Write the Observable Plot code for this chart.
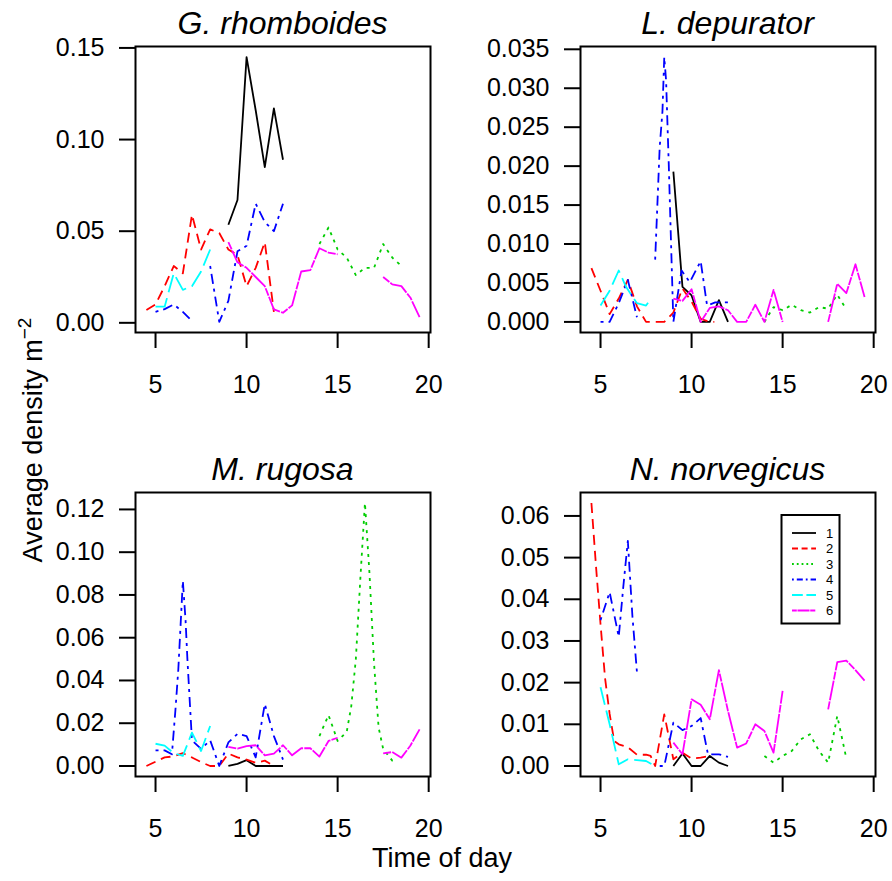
<!DOCTYPE html>
<html>
<head>
<meta charset="utf-8">
<script src="https://cdn.jsdelivr.net/npm/d3@7"></script>
<script src="https://cdn.jsdelivr.net/npm/@observablehq/plot@0.6"></script>
<style>
  html, body { margin: 0; padding: 0; background: #ffffff; }
  #wrap { position: relative; width: 892px; height: 881px; overflow: hidden; background: #ffffff;
          font-family: "Liberation Sans", Arial, Helvetica, sans-serif; }
  .panel { position: absolute; }
  #overlay { position: absolute; left: 0; top: 0; pointer-events: none; }
</style>
</head>
<body>
<div id="wrap"></div>
<script>
// ---------- shared labels / styles ----------
const xTicks = [5, 10, 15, 20];
const titles = ["G. rhomboides", "L. depurator", "M. rugosa", "N. norvegicus"];
const seriesLabels = ["1", "2", "3", "4", "5", "6"];
const seriesColors = ["#000000", "#ff0000", "#00cd00", "#0000ff", "#00ffff", "#ff00ff"];
const seriesDash = [undefined, "10,6", "3,5", "3,5,10,5", "18,6", "8,1.2,20,1.2"];
const xTitle = "Time of day";
const yTitle = "Average density m";
const yTitleSup = "\u22122";

// ---------- G. rhomboides : [time, density] ----------
const gr1 = [[9,0.0535],[9.5,0.067],[10,0.145],[10.5,0.116],[11,0.085],[11.5,0.117],[12,0.089]];
const gr2 = [[4.5,0.007],[5,0.010],[5.5,0.020],[6,0.031],[6.5,0.027],[7,0.059],[7.5,0.040],[8,0.051],[8.5,0.049],[9,0.040],[9.5,0.037],[10,0.020],[10.5,0.030],[11,0.044],[11.5,0.006]];
const gr3 = [[14,0.043],[14.5,0.052],[15,0.040],[15.5,0.0356],[16,0.026],[16.5,0.030],[17,0.030],[17.5,0.043],[18,0.0356],[18.5,0.031]];
const gr4 = [[5,0.006],[5.5,0.0075],[6,0.010],[6.5,0.006],[7,0.001],[7.5,null],[8,0.031],[8.5,0.0005],[9,0.012],[9.5,0.039],[10,0.042],[10.5,0.065],[11,0.055],[11.5,0.050],[12,0.065]];
const gr5 = [[5,0.0088],[5.5,0.0088],[6,0.027],[6.5,0.018],[7,0.020],[7.5,0.028],[8,0.040]];
const gr6 = [[9,0.044],[9.5,0.033],[10,0.030],[10.5,0.025],[11,0.020],[11.5,0.0073],[12,0.0055],[12.5,0.0095],[13,0.028],[13.5,0.0287],[14,0.0407],[14.5,0.0383],[15,0.0374],[15.5,null],[17.5,0.025],[18,0.021],[18.5,0.020],[19,0.0137],[19.5,0.0031]];
const grTicks = [0, 0.05, 0.10, 0.15];

// ---------- L. depurator ----------
const ld1 = [[9,0.0193],[9.5,0.0045],[10,0.0034],[10.5,0],[11,0],[11.5,0.0028],[12,0]];
const ld2 = [[4.5,0.0069],[5,0.004],[5.5,0.001],[6,0.003],[6.5,0.0054],[7,0.002],[7.5,0],[8,0],[8.5,0],[9,0.0012],[9.5,0.0043],[10,0.0026],[10.5,0.0004],[11,0],[11.25,0]];
const ld3 = [[14,0],[14.5,0.0019],[15,0.0015],[15.5,0.0022],[16,0.0015],[16.5,0.0012],[17,0.0019],[17.5,0.0017],[18,0.0035],[18.5,0.0016]];
const ld4 = [[5,0],[5.5,0],[6,0.0024],[6.5,0.0054],[7,0.0006],[7.5,null],[8,0.008],[8.25,0.0225],[8.4,0.027],[8.5,0.034],[8.6,0.031],[8.75,0.020],[8.88,0.0095],[9,0],[9.45,0.0066],[9.9,0.0051],[10.5,0.0078],[10.85,0.0021],[11.3,0.0025],[12,0.0025]];
const ld5 = [[5,0.0021],[5.5,0.004],[6,0.0066],[6.4,0.0045],[7,0.0024],[7.5,0.0021],[7.8,0.0031]];
const ld6 = [[9,0.003],[9.5,0.0027],[10,0.0042],[10.5,0],[11,0.0018],[11.5,0.0020],[12,0.0015],[12.5,0],[13,0],[13.5,0.0022],[14,0],[14.5,0.0041],[15,0],[15.5,null],[17.5,0],[18,0.0049],[18.5,0.0037],[19,0.0074],[19.5,0.0032]];
const ldTicks = [0, 0.005, 0.010, 0.015, 0.020, 0.025, 0.030, 0.035];

// ---------- M. rugosa ----------
const mr1 = [[9,0],[9.5,0.001],[10,0.0027],[10.5,0],[11,0],[11.5,0],[12,0]];
const mr2 = [[4.5,0],[5,0.002],[5.5,0.004],[6,0.0045],[6.5,0.006],[7,0.004],[7.5,0.0018],[8,0],[8.5,0],[9,0.0058],[9.5,0.004],[10,0.003],[10.5,0.0015],[11,0.0025],[11.5,0]];
const mr3 = [[14,0.014],[14.5,0.0238],[15,0.0117],[15.5,0.016],[15.75,0.028],[16,0.050],[16.25,0.088],[16.5,0.123],[16.75,0.090],[17,0.048],[17.25,0.018],[17.5,0.008],[18,0.0025],[18.25,0.0019]];
const mr4 = [[5,0.0073],[5.5,0.0073],[5.9,0.0055],[6.1,0.027],[6.25,0.045],[6.5,0.0865],[6.65,0.068],[6.75,0.050],[7,0.012],[7.5,0.008],[8,0.012],[8.5,0],[9,0.011],[9.5,0.015],[10,0.014],[10.5,0.004],[11,0.029],[11.5,0.014],[12,0.003]];
const mr5 = [[5,0.0104],[5.5,0.0095],[6,0.006],[6.5,0.0047],[7,0.0156],[7.5,0.007],[8,0.0187]];
const mr6 = [[9,0.0089],[9.5,0.0081],[10,0.0093],[10.5,0.0097],[11,0.005],[11.5,0.0058],[12,0.0097],[12.5,0.005],[13,0.0083],[13.5,0.0083],[14,0.0044],[14.5,0.0117],[15,0.0132],[15.5,null],[17.5,0.0059],[18,0.0065],[18.5,0.0039],[19,0.0096],[19.5,0.0171]];
const mrTicks = [0, 0.02, 0.04, 0.06, 0.08, 0.10, 0.12];

// ---------- N. norvegicus ----------
const nn1 = [[9,0],[9.5,0.003],[10,0],[10.5,0],[11,0.0024],[11.5,0.0008],[12,0]];
const nn2 = [[4.5,0.0631],[4.75,0.048],[5,0.034],[5.25,0.021],[5.5,0.0125],[5.75,0.006],[6,0.0052],[6.5,0.0045],[7,0.0027],[7.5,0.0027],[7.75,0.0024],[8,0],[8.5,0.0124],[9,0.0016],[9.5,0.0032],[10,0.0018],[10.5,0.002],[11,0.0024]];
const nn3 = [[14,0.0024],[14.5,0.0008],[15,0.0024],[15.5,0.0036],[16,0.0064],[16.5,0.0076],[17,0.0036],[17.5,0.0008],[18,0.012],[18.5,0.0018]];
const nn4 = [[5,0.035],[5.5,0.0417],[6,0.031],[6.25,0.043],[6.5,0.054],[6.75,0.036],[7,0.0225],[7.5,null],[8.25,0],[8.5,0],[9,0.0104],[9.5,0.0086],[10,0.0096],[10.5,0.0115],[10.9,0.0028],[11.5,0.0028],[12,0.0022]];
const nn5 = [[5,0.0189],[5.5,0.0100],[6,0.0004],[6.5,0.0016],[7,0.0014],[7.5,0.0012],[8,0]];
const nn6 = [[9,0.0056],[9.5,0.0028],[10,0.016],[10.5,0.0147],[11,0.0112],[11.5,0.023],[12,0.0132],[12.5,0.0044],[13,0.0054],[13.5,0.010],[14,0.0084],[14.5,0.0032],[15,0.018],[15.5,null],[17.5,0.0136],[18,0.0249],[18.5,0.0253],[19,0.023],[19.5,0.0205]];
const nnTicks = [0, 0.01, 0.02, 0.03, 0.04, 0.05, 0.06];

// ---------- layout ----------
const FONT = '"Liberation Sans", Arial, Helvetica, sans-serif';
const panels = [
  {title: titles[0], series: [gr1, gr2, gr3, gr4, gr5, gr6], yTicks: grTicks, fmt: ".2f",
   left: 0, top: 0, w: 446, h: 440, mt: 46, mr: 16, mb: 108, ml: 135},
  {title: titles[1], series: [ld1, ld2, ld3, ld4, ld5, ld6], yTicks: ldTicks, fmt: ".3f",
   left: 446, top: 0, w: 446, h: 440, mt: 46, mr: 17, mb: 108, ml: 134},
  {title: titles[2], series: [mr1, mr2, mr3, mr4, mr5, mr6], yTicks: mrTicks, fmt: ".2f",
   left: 0, top: 440, w: 446, h: 441, mt: 52, mr: 16, mb: 105, ml: 135},
  {title: titles[3], series: [nn1, nn2, nn3, nn4, nn5, nn6], yTicks: nnTicks, fmt: ".2f",
   left: 446, top: 440, w: 446, h: 441, mt: 52, mr: 17, mb: 105, ml: 134}
];

const wrap = document.getElementById("wrap");

function expand(ext) {           // R-style 4% axis expansion
  const pad = 0.04 * (ext[1] - ext[0]);
  return [ext[0] - pad, ext[1] + pad];
}

panels.forEach(p => {
  const all = p.series.flat();
  const xExt = d3.extent(all, d => d[0]);
  const yExt = d3.extent(all.filter(d => d[1] != null), d => d[1]);
  const lines = p.series.map((arr, i) => Plot.line(arr, {
    x: d => d[0],
    y: d => (d[1] == null ? NaN : d[1]),
    stroke: seriesColors[i],
    strokeWidth: 1.8,
    strokeDasharray: seriesDash[i],
    strokeLinejoin: "round",
    strokeLinecap: "butt"
  }));
  const chart = Plot.plot({
    width: p.w, height: p.h,
    marginTop: p.mt, marginRight: p.mr, marginBottom: p.mb, marginLeft: p.ml,
    style: {fontFamily: FONT, fontSize: "25px", color: "#000", background: "transparent", overflow: "visible"},
    x: {domain: expand(xExt)},
    y: {domain: expand(yExt)},
    marks: [
      ...lines,
      Plot.frame({stroke: "#000", strokeWidth: 2}),
      Plot.axisX({ticks: xTicks, tickSize: 16, tickPadding: 27, strokeWidth: 2, fontSize: 25, label: null}),
      Plot.axisY({ticks: p.yTicks, tickFormat: d3.format(p.fmt), tickSize: 16, tickPadding: 15,
                  strokeWidth: 2, fontSize: 25, label: null})
    ]
  });
  const div = document.createElement("div");
  div.className = "panel";
  div.style.left = p.left + "px";
  div.style.top = p.top + "px";
  div.appendChild(chart);
  wrap.appendChild(div);
});

// ---------- titles, axis titles, legend ----------
const svg = d3.select(wrap).append("svg")
  .attr("id", "overlay").attr("width", 892).attr("height", 881)
  .style("font-family", FONT);

panels.forEach(p => {
  svg.append("text")
    .attr("x", p.left + p.ml + (p.w - p.ml - p.mr) / 2)
    .attr("y", p.top + p.mt - 12)
    .attr("text-anchor", "middle")
    .attr("font-size", 32)
    .attr("font-style", "italic")
    .attr("fill", "#000")
    .text(p.title);
});

svg.append("text")
  .attr("x", 442).attr("y", 867)
  .attr("text-anchor", "middle").attr("font-size", 27).attr("fill", "#000")
  .text(xTitle);

const yt = svg.append("text")
  .attr("transform", "translate(42,440) rotate(-90)")
  .attr("text-anchor", "middle").attr("font-size", 27).attr("fill", "#000");
yt.append("tspan").text(yTitle);
yt.append("tspan").attr("dy", -11).attr("font-size", 19).text(yTitleSup);

// legend (inside N. norvegicus panel)
const lg = svg.append("g");
lg.append("rect").attr("x", 781.5).attr("y", 515).attr("width", 58).attr("height", 108.5)
  .attr("fill", "#fff").attr("stroke", "#000").attr("stroke-width", 2);
seriesLabels.forEach((lab, i) => {
  const y = 533 + i * 15.5;
  const dash = seriesDash[i] ? seriesDash[i].split(",").map(v => (+v * 0.6).toFixed(1)).join(",") : null;
  lg.append("line").attr("x1", 792).attr("x2", 816).attr("y1", y).attr("y2", y)
    .attr("stroke", seriesColors[i]).attr("stroke-width", 1.8)
    .attr("stroke-dasharray", dash);
  lg.append("text").attr("x", 826).attr("y", y + 4.7).attr("font-size", 13).attr("fill", "#000").text(lab);
});
</script>
</body>
</html>
